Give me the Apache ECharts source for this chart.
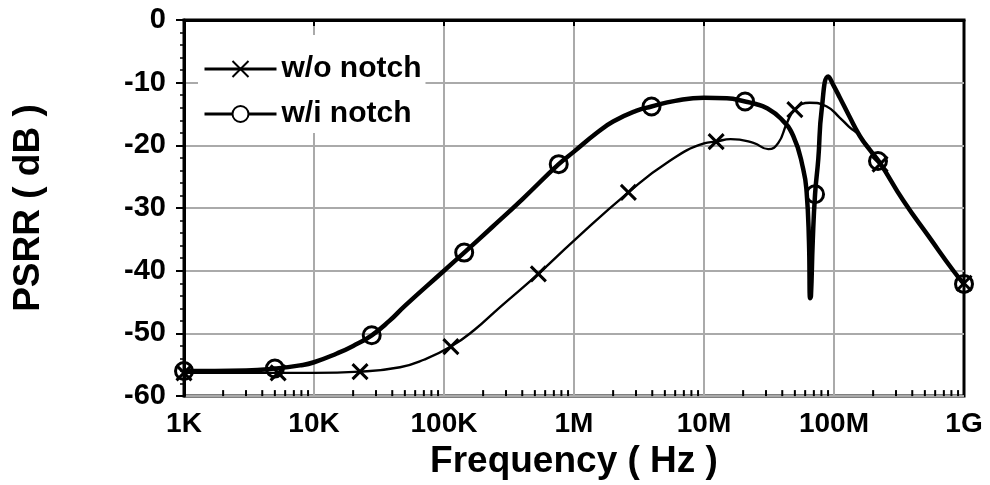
<!DOCTYPE html>
<html><head><meta charset="utf-8">
<script src="https://cdn.jsdelivr.net/npm/echarts@6/dist/echarts.min.js"></script>
<style>html,body{margin:0;padding:0;background:#fff}#c{width:990px;height:485px}</style>
</head><body><div id="c"></div>
<script>
// Tick labels for the decade ticks
const xTickValues = [1e3, 1e4, 1e5, 1e6, 1e7, 1e8, 1e9];
const xTickLabels = ['1K', '10K', '100K', '1M', '10M', '100M', '1G'];
const yTickLabels = ['-60', '-50', '-40', '-30', '-20', '-10', '0'];
const seriesNames = ['w/o notch', 'w/i notch'];

// w/o notch curve (Hz, dB)
const woFreq = [1e3, 5.3e3, 1e4, 2.26e4, 4.59e4, 7e4, 1.13e5, 1.7e5, 2.7e5, 5.32e5, 1e6, 2.62e6, 5.16e6, 1e7, 1.24e7, 1.6e7, 2.4e7, 3.12e7, 3.73e7, 4.33e7, 5e7, 6.5e7, 8.8e7, 1.11e8, 1.3e8, 1.58e8, 1.9e8, 2.26e8, 3.41e8, 5.47e8, 8.28e8, 1e9];
const woDb   = [-56.3, -56.3, -56.3, -56.1, -55.4, -54.2, -52.1, -49.5, -45.8, -40.5, -35.2, -27.5, -22.8, -19.7, -19.4, -19.0, -19.6, -20.6, -19.6, -16.5, -14.3, -13.2, -13.8, -15.6, -17.0, -18.5, -20.8, -23.0, -28.8, -34.8, -40.0, -42.0];
// w/o notch markers
const woMarkFreq = [1e3, 5.3e3, 2.26e4, 1.13e5, 5.32e5, 2.62e6, 1.24e7, 5e7, 2.26e8, 1e9];
const woMarkDb   = [-56.3, -56.3, -56.1, -52.1, -40.5, -27.5, -19.4, -14.3, -23.0, -42.0];

// w/i notch curve (Hz, dB)
const wiFreq = [1e3, 3e3, 5e3, 7.8e3, 1e4, 1.5e4, 2e4, 2.78e4, 3.8e4, 5e4, 1e5, 1.43e5, 2.33e5, 4e5, 7.63e5, 1e6, 1.5e6, 2e6, 3e6, 3.95e6, 6e6, 1e7, 1.5e7, 2.07e7, 2.5e7, 3e7, 3.84e7, 4.86e7, 5.8e7, 6.16e7, 6.42e7, 6.55e7, 6.65e7, 6.86e7, 7.15e7, 7.57e7, 8.04e7, 9.04e7, 1e8, 1.11e8, 1.3e8, 1.58e8, 1.9e8, 2.26e8, 3.41e8, 5.47e8, 8.28e8, 1e9];
const wiDb   = [-56.0, -55.9, -55.6, -55.1, -54.6, -53.2, -52.0, -50.3, -48.0, -45.6, -40.0, -37.1, -33.1, -28.6, -23.0, -21.0, -18.0, -16.2, -14.5, -13.8, -12.9, -12.4, -12.5, -13.0, -13.4, -14.0, -15.6, -18.5, -23.8, -27.5, -35.4, -44.4, -44.0, -35.4, -27.8, -22.2, -14.3, -9.0, -10.6, -12.4, -15.2, -18.5, -20.8, -22.8, -28.8, -34.8, -40.0, -42.1];
// w/i notch markers
const wiMarkFreq = [1e3, 5e3, 2.78e4, 1.43e5, 7.63e5, 3.95e6, 2.07e7, 7.15e7, 2.18e8, 1e9];
const wiMarkDb   = [-56.0, -55.6, -50.3, -37.1, -23.0, -13.8, -13.0, -27.8, -22.5, -42.1];

// minor log tick positions (2..9 within each decade)
const minorMultipliers = [2, 3, 4, 5, 6, 7, 8, 9];

const zip = (a, b) => a.map((v, i) => [v, b[i]]);
const minorTicks = [];
xTickValues.slice(0, -1).forEach(d => minorMultipliers.forEach(m => minorTicks.push([d * m, -60])));

const FONT = "'Liberation Sans', Arial, sans-serif";
const crossPath = 'path://M0,0L10,10M10,0L0,10';

const chart = echarts.init(document.getElementById('c'), null, {renderer: 'canvas'});
chart.setOption({
  animation: false,
  backgroundColor: '#fff',
  grid: {left: 184, right: 26, top: 20, bottom: 87, show: true, borderColor: '#000', borderWidth: 3, backgroundColor: 'transparent'},
  legend: {
    data: seriesNames,
    orient: 'vertical',
    left: 198, top: 35,
    padding: [19, 4, 4, 5],
    itemGap: 15,
    itemWidth: 72, itemHeight: 20,
    backgroundColor: '#fff',
    lineStyle: {width: 3, color: '#000'},
    textStyle: {fontFamily: FONT, fontWeight: 'bold', fontSize: 30, color: '#000', lineHeight: 30},
    selectedMode: false
  },
  xAxis: {
    type: 'log', logBase: 10, min: 1e3, max: 1e9, splitNumber: 6,
    axisLine: {lineStyle: {color: '#000', width: 3}},
    axisTick: {show: true, length: 6, lineStyle: {color: '#000', width: 2}},
    axisLabel: {
      margin: 14, color: '#000', fontFamily: FONT, fontWeight: 'bold', fontSize: 28,
      formatter: v => xTickLabels[Math.round(Math.log10(v)) - 3]
    },
    splitLine: {show: true, showMaxLine: false, lineStyle: {color: '#aaa', width: 2}},
    name: 'Frequency ( Hz )', nameLocation: 'middle', nameGap: 31,
    nameTextStyle: {color: '#000', fontFamily: FONT, fontWeight: 'bold', fontSize: 37}
  },
  yAxis: {
    type: 'value', min: -60, max: 0, interval: 10,
    axisLine: {show: true, lineStyle: {color: '#000', width: 3}},
    axisTick: {show: true, length: 8, lineStyle: {color: '#000', width: 2}},
    minorTick: {show: true, splitNumber: 5, length: 4, lineStyle: {color: '#000', width: 1.5}},
    axisLabel: {
      margin: 18, color: '#000', fontFamily: FONT, fontWeight: 'bold', fontSize: 29,
      formatter: v => yTickLabels[Math.round((v + 60) / 10)]
    },
    splitLine: {show: true, showMaxLine: false, lineStyle: {color: '#aaa', width: 2}},
    name: 'PSRR ( dB )', nameLocation: 'middle', nameGap: 137,
    nameTextStyle: {color: '#000', fontFamily: FONT, fontWeight: 'bold', fontSize: 37}
  },
  series: [
    {
      name: seriesNames[0], type: 'line', data: zip(woFreq, woDb),
      smooth: 0.5, showSymbol: false, symbol: crossPath, symbolSize: 16,
      itemStyle: {color: '#000', borderColor: '#000', borderWidth: 3},
      lineStyle: {color: '#000', width: 2.4}, z: 3, silent: true
    },
    {
      name: seriesNames[1], type: 'line', data: zip(wiFreq, wiDb),
      smooth: 0.5, showSymbol: false, symbol: 'emptyCircle', symbolSize: 16,
      itemStyle: {color: '#000'},
      lineStyle: {color: '#000', width: 4.5}, z: 4, silent: true
    },
    {
      name: 'woMarkers', type: 'scatter', data: zip(woMarkFreq, woMarkDb),
      symbol: crossPath, symbolSize: 15,
      itemStyle: {color: '#000', borderColor: '#000', borderWidth: 3, opacity: 1},
      z: 5, silent: true
    },
    {
      name: 'wiMarkers', type: 'scatter', data: zip(wiMarkFreq, wiMarkDb),
      symbol: 'circle', symbolSize: 17,
      itemStyle: {color: 'rgba(0,0,0,0)', borderColor: '#000', borderWidth: 3, opacity: 1},
      z: 6, silent: true
    },
    {
      name: 'minorTicks', type: 'custom', data: minorTicks, silent: true, z: 7,
      renderItem: (params, api) => {
        const p = api.coord([api.value(0), api.value(1)]);
        return {type: 'line', shape: {x1: p[0], y1: p[1], x2: p[0], y2: p[1] - 6}, style: {stroke: '#000', lineWidth: 2}};
      }
    }
  ]
});
</script></body></html>
